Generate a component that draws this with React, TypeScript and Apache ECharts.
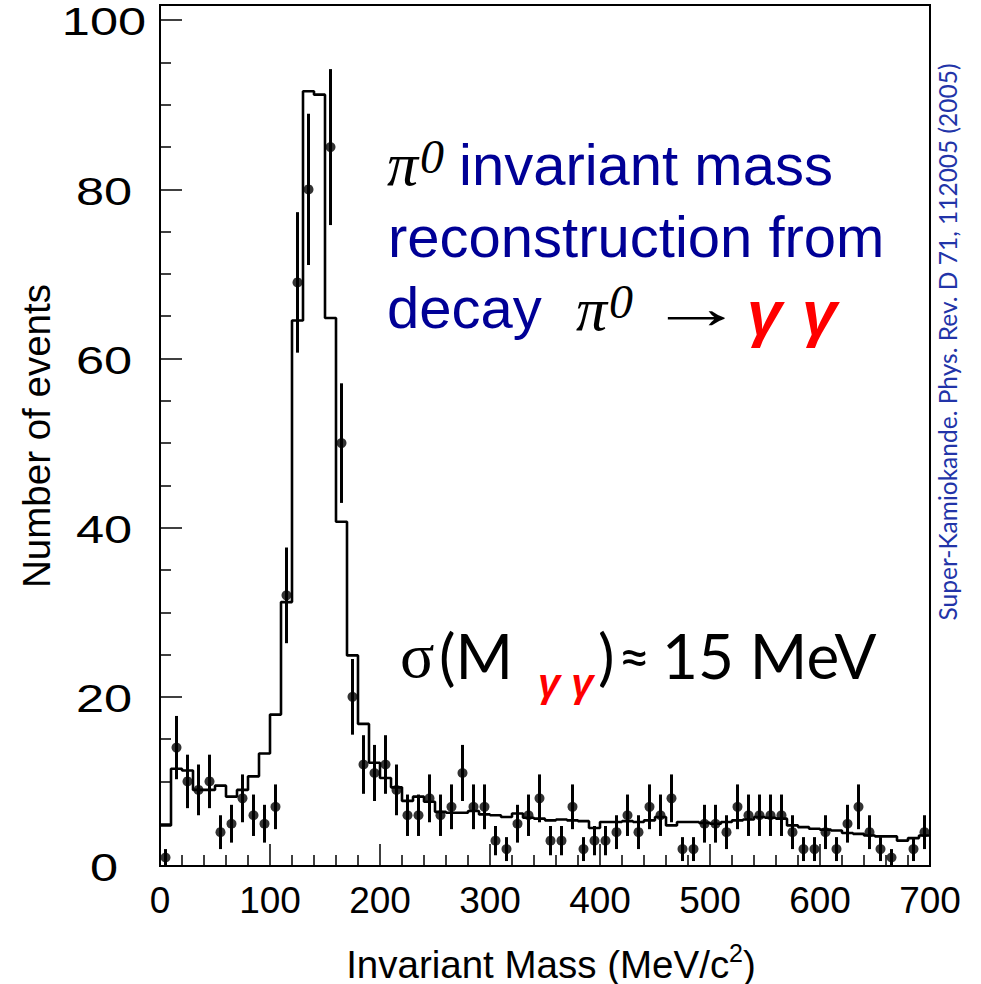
import React, { useEffect, useRef } from "react";
import * as echarts from "echarts";

const BIN_WIDTH = 10;
const X_MIN = 0;
const X_MAX = 700;
const Y_MAX = 101.8;

// Observed events per 10 MeV bin (bin centres 5, 15, ..., 695); null = no point drawn
const observed: (number | null)[] = [
  1, 14, 10, 9, 10, 4, 5, 8, 6, 5,
  7, 32, 69, 80, null, 85, 50, 20, 12, 11,
  12, 9, 6, 6, 8, 6, 7, 11, 7, 7,
  3, 2, 5, 6, 8, 3, 3, 7, 2, 3,
  3, 4, 6, 4, 7, 6, 8, 2, 2, 5,
  5, 4, 7, 6, 6, 6, 6, 4, 2, 2,
  4, 2, 5, 7, 4, 2, 1, null, 2, 4,
];

// Monte Carlo expectation per 10 MeV bin (bin left edges 0, 10, ..., 690)
const expected: number[] = [
  4.8, 11.5, 11.3, 9.0, 9.0, 9.5, 8.2, 9.0, 10.6, 13.3,
  17.9, 31.2, 64.5, 91.6, 91.2, 64.8, 40.7, 24.9, 16.8, 12.2,
  10.4, 9.3, 7.7, 8.2, 7.6, 6.4, 6.3, 6.3, 6.5, 6.1,
  6.0, 5.8, 6.2, 5.7, 5.6, 5.4, 5.5, 5.4, 5.3, 4.5,
  5.2, 5.2, 5.3, 5.2, 5.4, 5.8, 4.8, 5.2, 5.2, 5.1,
  5.0, 5.2, 5.4, 5.5, 5.8, 5.7, 5.6, 4.8, 4.6, 4.4,
  4.3, 4.2, 3.9, 3.8, 3.6, 3.5, 3.5, 3.0, 3.3, 3.6,
];

const yTickValues: number[] = [0, 20, 40, 60, 80, 100];
const Y_TICK_INTERVAL = 20;
const X_TICK_INTERVAL = 100;

const BLUE = "#000096";
const RED = "#ff0000";
const CITE = "#2234a8";

export default function App() {
  const ref = useRef<HTMLDivElement>(null);

  useEffect(() => {
    if (!ref.current) return;
    const chart = echarts.init(ref.current, null, { renderer: "svg" });

    const histData: number[][] = expected.map((v, i) => [X_MIN + i * BIN_WIDTH, v]);
    histData.push([X_MAX, expected[expected.length - 1]]);

    const pts: number[][] = [];
    observed.forEach((v, i) => {
      if (v !== null) pts.push([X_MIN + (i + 0.5) * BIN_WIDTH, v]);
    });
    const errs = pts.map((p) => [p[0], Math.max(0, p[1] - Math.sqrt(p[1])), p[1] + Math.sqrt(p[1])]);

    const sans = "Liberation Sans, Arial, Helvetica, sans-serif";
    const serif = "Liberation Serif, Times New Roman, serif";
    const calib = "Lato, Open Sans, sans-serif";

    chart.setOption({
      animation: false,
      backgroundColor: "#ffffff",
      grid: {
        left: 160,
        top: 5,
        width: 770,
        height: 861,
        show: true,
        borderColor: "#000",
        borderWidth: 2,
        backgroundColor: "transparent",
      },
      xAxis: {
        type: "value",
        min: X_MIN,
        max: X_MAX,
        interval: X_TICK_INTERVAL,
        axisLine: { show: true, onZero: false, lineStyle: { color: "#000", width: 2 } },
        axisTick: { show: true, inside: true, length: 22, lineStyle: { color: "#000", width: 1.5 } },
        minorTick: { show: true, splitNumber: 5, length: 11, lineStyle: { color: "#000", width: 1.5 } },
        splitLine: { show: false },
        minorSplitLine: { show: false },
        axisLabel: { color: "#000", fontSize: 37, fontFamily: sans, margin: 16 },
      },
      yAxis: {
        type: "value",
        min: 0,
        max: Y_MAX,
        interval: Y_TICK_INTERVAL,
        axisLine: { show: true, onZero: false, lineStyle: { color: "#000", width: 2 } },
        axisTick: { show: true, inside: true, length: 22, lineStyle: { color: "#000", width: 1.5 } },
        minorTick: { show: true, splitNumber: 4, length: 11, lineStyle: { color: "#000", width: 1.5 } },
        splitLine: { show: false },
        axisLabel: { show: false },
      },
      series: [
        {
          type: "line",
          data: histData,
          step: "end",
          symbol: "none",
          lineStyle: { color: "#000", width: 2.6 },
          z: 2,
        },
        {
          type: "custom",
          data: errs,
          renderItem: (params: any, api: any) => {
            const x = api.value(0);
            const a = api.coord([x, api.value(1)]);
            const b = api.coord([x, api.value(2)]);
            return {
              type: "line",
              shape: { x1: a[0], y1: a[1], x2: b[0], y2: b[1] },
              style: { stroke: "#000", lineWidth: 3 },
            };
          },
          z: 3,
        },
        {
          type: "scatter",
          data: pts,
          symbol: "circle",
          symbolSize: 10,
          itemStyle: { color: "#000" },
          z: 4,
        },
        {
          // y-axis tick labels (wide lettering, placed through the y scale)
          type: "custom",
          data: yTickValues.map((v) => [X_MIN, v]),
          clip: false,
          silent: true,
          renderItem: (params: any, api: any) => {
            const p = api.coord([api.value(0), api.value(1)]);
            return {
              type: "text",
              x: p[0] - 56,
              y: p[1] + 2,
              scaleX: 1.33,
              style: {
                text: String(api.value(1)),
                fontSize: 38,
                lineHeight: 36,
                fontFamily: sans,
                fill: "#000",
                align: "center",
                verticalAlign: "middle",
              },
            };
          },
          z: 5,
        },
      ],
      graphic: [
        {
          type: "text",
          x: 36,
          y: 436,
          rotation: Math.PI / 2,
          style: { text: "Number of events", fontSize: 38.5, fontFamily: sans, fill: "#000", align: "center", verticalAlign: "middle" },
        },
        {
          type: "text",
          x: 551,
          y: 962,
          style: {
            text: "{a|Invariant Mass (MeV/c}{s|2}{a|)}",
            align: "center",
            verticalAlign: "middle",
            rich: {
              a: { fontSize: 38.5, fontFamily: sans, fill: "#000", verticalAlign: "bottom" },
              s: { fontSize: 25, fontFamily: sans, fill: "#000", verticalAlign: "top", padding: [0, 0, 18, 0] },
            },
          },
        },
        // line 1
        { type: "text", x: 387, y: 164, style: { text: "π", fontSize: 62, fontStyle: "italic", fontFamily: serif, fill: "#000", verticalAlign: "middle" } },
        { type: "text", x: 420, y: 156, style: { text: "0", fontSize: 48, fontStyle: "italic", fontFamily: serif, fill: "#000", verticalAlign: "middle" } },
        { type: "text", x: 459, y: 164, style: { text: "invariant mass", fontSize: 58, fontFamily: sans, fill: BLUE, verticalAlign: "middle" } },
        // line 2
        { type: "text", x: 388, y: 236, style: { text: "reconstruction from", fontSize: 58, fontFamily: sans, fill: BLUE, verticalAlign: "middle" } },
        // line 3
        { type: "text", x: 387, y: 307, style: { text: "decay", fontSize: 58, fontFamily: sans, fill: BLUE, verticalAlign: "middle" } },
        { type: "text", x: 576, y: 309, style: { text: "π", fontSize: 62, fontStyle: "italic", fontFamily: serif, fill: "#000", verticalAlign: "middle" } },
        { type: "text", x: 609, y: 301, style: { text: "0", fontSize: 48, fontStyle: "italic", fontFamily: serif, fill: "#000", verticalAlign: "middle" } },
        { type: "text", x: 648, y: 307, scaleX: 1.6, style: { text: "→", fontSize: 60, fontFamily: sans, fill: "#000", verticalAlign: "middle" } },
        { type: "text", x: 747, y: 313, style: { text: "γ", fontSize: 63, fontStyle: "italic", fontWeight: "bold", fontFamily: sans, fill: RED, verticalAlign: "middle" } },
        { type: "text", x: 802, y: 313, style: { text: "γ", fontSize: 63, fontStyle: "italic", fontWeight: "bold", fontFamily: sans, fill: RED, verticalAlign: "middle" } },
        // sigma line
        { type: "text", x: 400, y: 655, style: { text: "σ", fontSize: 64, fontFamily: serif, fill: "#000", verticalAlign: "middle" } },
        { type: "text", x: 439, y: 655, style: { text: "(M", fontSize: 62, fontFamily: calib, fill: "#000", verticalAlign: "middle" } },
        { type: "text", x: 538, y: 683, style: { text: "γ γ", fontSize: 40, fontStyle: "italic", fontWeight: "bold", fontFamily: sans, fill: RED, verticalAlign: "middle" } },
        { type: "text", x: 598, y: 655, style: { text: ")", fontSize: 62, fontFamily: calib, fill: "#000", verticalAlign: "middle" } },
        { type: "text", x: 618, y: 655, style: { text: "≈", fontSize: 56, fontFamily: calib, fill: "#000", verticalAlign: "middle" } },
        { type: "text", x: 662, y: 655, style: { text: "15 MeV", fontSize: 62, fontFamily: calib, fill: "#000", verticalAlign: "middle" } },
        // citation
        {
          type: "text",
          x: 947,
          y: 342,
          rotation: Math.PI / 2,
          style: { text: "Super-Kamiokande. Phys. Rev. D 71, 112005 (2005)", fontSize: 24.5, fontFamily: calib, fill: CITE, align: "center", verticalAlign: "middle" },
        },
      ],
    });

    return () => chart.dispose();
  }, []);

  return <div ref={ref} style={{ position: "absolute", left: 0, top: 0, width: 981, height: 984 }} />;
}
